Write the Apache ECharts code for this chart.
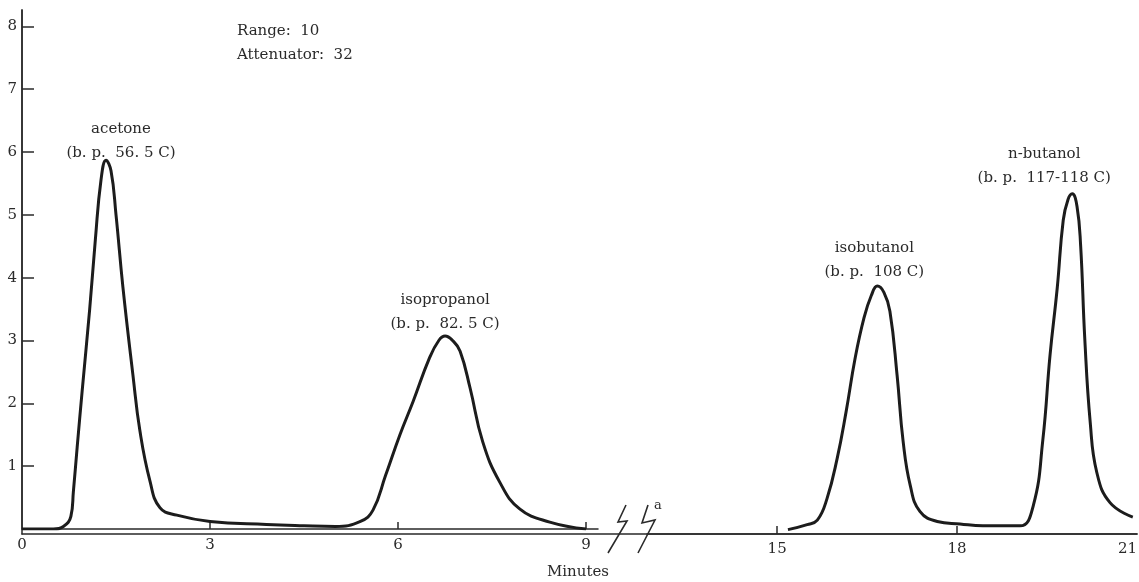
<!DOCTYPE html>
<html>
<head>
<meta charset="utf-8">
<script src="https://cdn.jsdelivr.net/npm/echarts@6/dist/echarts.min.js"></script>
<style>
  html, body { margin: 0; padding: 0; background: #fff; }
  #chart { width: 1139px; height: 582px; }
</style>
</head>
<body>
<div id="chart"></div>
<script>
// minutes vs detector response
const firstRun = [
  [0, 0], [0.5, 0], [0.66, 0.04], [0.78, 0.2], [0.82, 0.6], [0.88, 1.3], [0.96, 2.2],
  [1.08, 3.5], [1.17, 4.6], [1.26, 5.55], [1.34, 5.87], [1.42, 5.7], [1.5, 5.0],
  [1.61, 3.85], [1.77, 2.45], [1.88, 1.57], [2.04, 0.77], [2.2, 0.34], [2.47, 0.22],
  [3.0, 0.12], [3.9, 0.07], [4.5, 0.05], [5.0, 0.04], [5.4, 0.12], [5.6, 0.3],
  [5.8, 0.85], [6.03, 1.5], [6.24, 2.03], [6.5, 2.72], [6.65, 3.0], [6.75, 3.07],
  [6.87, 3.0], [6.99, 2.83], [7.15, 2.24], [7.35, 1.39], [7.62, 0.75], [7.94, 0.32],
  [8.42, 0.11], [9.0, 0]
];
const secondRun = [
  [15.18, 0.07], [15.5, 0.15], [15.67, 0.22], [15.83, 0.56], [16.0, 1.2], [16.15, 1.95],
  [16.3, 2.8], [16.45, 3.45], [16.57, 3.8], [16.67, 3.95], [16.78, 3.85], [16.88, 3.55],
  [17.0, 2.53], [17.1, 1.48], [17.22, 0.77], [17.38, 0.36], [17.67, 0.2], [18.05, 0.16],
  [18.43, 0.13], [19.05, 0.13], [19.27, 0.45], [19.43, 1.5], [19.55, 2.85], [19.67, 3.92],
  [19.77, 5.0], [19.85, 5.33], [19.92, 5.42], [20.0, 5.22], [20.06, 4.6], [20.13, 3.1],
  [20.22, 1.78], [20.33, 0.98], [20.55, 0.5], [20.93, 0.27]
];

const firstPeaks = ["acetone\n(b. p.  56. 5 C)", "isopropanol\n(b. p.  82. 5 C)"];
const secondPeaks = ["isobutanol\n(b. p.  108 C)", "n-butanol\n(b. p.  117-118 C)"];

const yTicks = [1, 2, 3, 4, 5, 6, 7, 8];
const firstXLabels = [0, 3, 6, 9];
const firstXTicks = [3, 6, 9];
const secondXLabels = [15, 18, 21];
const secondXTicks = [15, 18];

const serif = "DejaVu Serif";
const ink = "#2a2a2a";

// local maxima of a trace, used to hang the peak labels
function findPeaks(data) {
  const out = [];
  for (let i = 1; i < data.length - 1; i++) {
    if (data[i][1] >= data[i - 1][1] && data[i][1] > data[i + 1][1] && data[i][1] > 1) {
      out.push(data[i]);
    }
  }
  return out;
}

function peakMarks(data, names, offsets) {
  return findPeaks(data).map((p, i) => ({
    coord: p,
    name: names[i],
    label: { offset: offsets[i] }
  }));
}

const markStyle = {
  symbol: "circle",
  symbolSize: 1,
  itemStyle: { color: "transparent" },
  label: {
    show: true,
    position: "top",
    distance: 0,
    formatter: "{b}",
    fontFamily: serif,
    fontSize: 15,
    lineHeight: 24,
    color: ink,
    align: "center"
  }
};

const chart = echarts.init(document.getElementById("chart"));

const axisLine = { show: true, lineStyle: { color: ink, width: 1.5 } };
const axisFont = { fontFamily: serif, fontSize: 15, color: ink };

chart.setOption({
  animation: false,
  backgroundColor: "#fff",
  grid: [
    { left: 22, right: 541, top: 10, bottom: 53, outerBoundsMode: "none" },
    { left: 647, right: 2, top: 10, bottom: 48, outerBoundsMode: "none" },
    { left: 22, right: 2, top: 10, bottom: 48, outerBoundsMode: "none" }
  ],
  xAxis: [
    {
      gridIndex: 0, type: "value", min: 0, max: 9.19,
      axisLine: axisLine,
      splitLine: { show: false },
      axisTick: { show: true, inside: true, length: 7, customValues: firstXTicks, lineStyle: { color: ink, width: 1.5 } },
      axisLabel: { ...axisFont, margin: 9, customValues: firstXLabels }
    },
    {
      gridIndex: 1, type: "value", min: 12.83, max: 21,
      axisLine: axisLine,
      splitLine: { show: false },
      axisTick: { show: true, inside: true, length: 8, customValues: secondXTicks, lineStyle: { color: ink, width: 1.5 } },
      axisLabel: { ...axisFont, margin: 8, customValues: secondXLabels, alignMaxLabel: "right" }
    },
    {
      gridIndex: 2, type: "value", min: 0, max: 1, position: "top",
      axisLine: axisLine, axisTick: { show: false }, axisLabel: { show: false },
      splitLine: { show: false }
    }
  ],
  yAxis: [
    {
      gridIndex: 0, type: "value", min: 0, max: 8.26,
      axisLine: axisLine,
      splitLine: { show: false },
      axisTick: { show: true, inside: true, length: 12, customValues: yTicks, lineStyle: { color: ink, width: 1.5 } },
      axisLabel: { ...axisFont, margin: 5, customValues: yTicks }
    },
    {
      gridIndex: 1, type: "value", min: 0, max: 8.35, show: false
    },
    {
      gridIndex: 2, type: "value", min: 0, max: 1, position: "right",
      axisLine: axisLine, axisTick: { show: false }, axisLabel: { show: false },
      splitLine: { show: false }
    }
  ],
  series: [
    {
      type: "line", xAxisIndex: 0, yAxisIndex: 0,
      data: firstRun,
      showSymbol: false, smooth: 0.45,
      lineStyle: { color: "#1c1c1c", width: 3 },
      markPoint: { ...markStyle, data: peakMarks(firstRun, firstPeaks, [[15, 5], [0, 1]]) }
    },
    {
      type: "line", xAxisIndex: 1, yAxisIndex: 1,
      data: secondRun,
      showSymbol: false, smooth: 0.45,
      lineStyle: { color: "#1c1c1c", width: 3 },
      markPoint: { ...markStyle, data: peakMarks(secondRun, secondPeaks, [[-3, -2], [-28, -3]]) }
    }
  ],
  graphic: [
    {
      type: "text", left: 237, top: 19,
      style: { text: "Range:  10\nAttenuator:  32", font: "15px " + serif, lineHeight: 24, fill: ink }
    },
    {
      type: "text", x: 578, y: 572,
      style: { text: "Minutes", font: "15px " + serif, fill: ink, align: "center", verticalAlign: "middle" }
    },
    // axis break marks
    {
      type: "polyline",
      shape: { points: [[626, 505], [618, 522], [627, 521], [608, 553]] },
      style: { stroke: ink, lineWidth: 1.6, fill: null }
    },
    {
      type: "polyline",
      shape: { points: [[648, 505], [642, 523], [655, 520], [638, 553]] },
      style: { stroke: ink, lineWidth: 1.6, fill: null }
    },
    {
      type: "text", x: 658, y: 506,
      style: { text: "a", font: "13px " + serif, fill: ink, align: "center", verticalAlign: "middle" }
    }
  ]
});
</script>
</body>
</html>
